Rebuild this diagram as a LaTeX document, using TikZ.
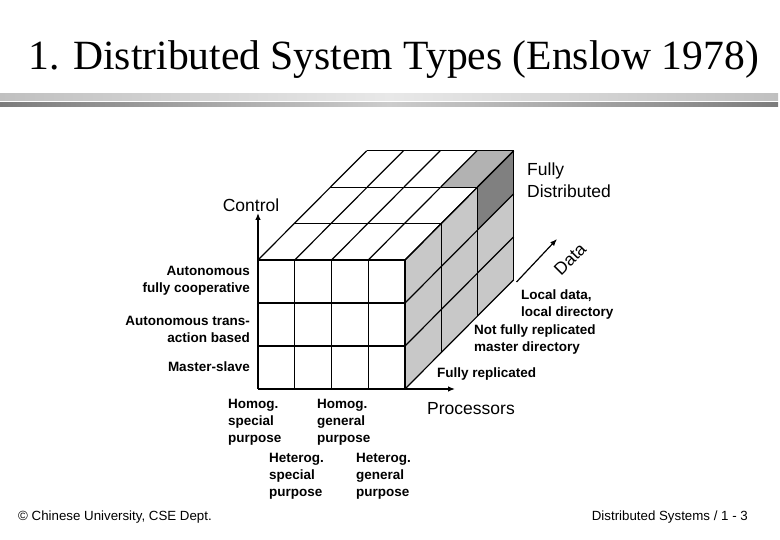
\documentclass[tikz,border=0pt]{standalone}
\usepackage{fontspec}
\setmainfont{Liberation Serif}
\setsansfont{Liberation Sans}
\usetikzlibrary{arrows.meta}

\definecolor{sidegray}{HTML}{C8C8C8}
\definecolor{topgray}{HTML}{B2B2B2}
\definecolor{cubedark}{HTML}{808080}
\definecolor{barlight}{HTML}{E8E8E8}
\definecolor{barmid}{HTML}{C0C0C0}
\definecolor{barpale}{HTML}{CCCCCC}
\definecolor{bardark}{HTML}{7C7C7C}

\begin{document}
\begin{tikzpicture}[x=1pt,y=-1pt,
  lbl/.style={font=\sffamily\fontsize{17.5}{21.5}\selectfont,inner sep=0pt},
  blbl/.style={font=\sffamily\bfseries\fontsize{13.5}{17}\selectfont,inner sep=0pt},
  grid/.style={line width=1.2pt},
  axis/.style={line width=1.2pt,-{Latex[length=7pt,width=5.5pt]}}]

\useasboundingbox (0,0) rectangle (780,540);

% Title
\node[anchor=base west,inner sep=0pt,font=\fontsize{41.6}{48}\selectfont] (title) at (28,70)
  {1. Distributed System Types (Enslow 1978)};

% Bars under the title
\shade[left color=barmid,right color=barlight] (0,94) rectangle (389,100.5);
\shade[left color=barlight,right color=barmid] (389,94) rectangle (778,100.5);
\shade[left color=bardark,right color=barpale] (0,103) rectangle (389,107);
\shade[left color=barpale,right color=bardark] (389,103) rectangle (778,107);

% Cube
\begin{scope}[shift={(258,389)},x={(36.75pt,0pt)},y={(0pt,43pt)},z={(36.2pt,36.4pt)}]
  \coordinate (ftl) at (0,3,0);
  \coordinate (fbr) at (4,0,0);
  \coordinate (bbr) at (4,0,3);

  % shaded faces
  \fill[sidegray] (4,0,0) -- (4,3,0) -- (4,3,3) -- (4,0,3) -- cycle;
  \fill[topgray] (3,3,2) -- (4,3,2) -- (4,3,3) -- (3,3,3) -- cycle;
  \fill[cubedark] (4,2,2) -- (4,3,2) -- (4,3,3) -- (4,2,3) -- cycle;

  % front face
  \foreach \i in {0,...,4} \draw[grid] (\i,0,0) -- (\i,3,0);
  \foreach \j in {0,...,3} \draw[grid] (0,\j,0) -- (4,\j,0);
  % top face
  \foreach \i in {0,...,4} \draw[grid] (\i,3,0) -- (\i,3,3);
  \foreach \k in {0,...,3} \draw[grid] (0,3,\k) -- (4,3,\k);
  % right face
  \foreach \k in {0,...,3} \draw[grid] (4,0,\k) -- (4,3,\k);
  \foreach \j in {0,...,3} \draw[grid] (4,\j,0) -- (4,\j,3);
\end{scope}

% Axes
\coordinate (ctrltip) at (258,213);
\coordinate (proctip) at (455,389);
\coordinate (datatail) at (516.5,282);
\coordinate (datatip) at (557,239);
\draw[axis] (ftl) -- (ctrltip);
\draw[axis] (fbr) -- (proctip);
\draw[axis] (datatail) -- (datatip);

\node[lbl] (control) at (251,205) {Control};
\node[lbl] (processors) at (471,409) {Processors};
\node[lbl,rotate=45] (data) at (570,259) {Data};
\node[lbl,anchor=west,align=left] (fullydist) at (527,180) {Fully\\Distributed};

% Control levels
\node[blbl,anchor=east,align=right] (autocoop) at (250,281) {Autonomous\\fully cooperative};
\node[blbl,anchor=east,align=right] (autotrans) at (250,329) {Autonomous trans-\\action based};
\node[blbl,anchor=east] (master) at (250,367) {Master-slave};

% Data levels
\node[blbl,anchor=west,align=left] (localdata) at (521,305) {Local data,\\local directory};
\node[blbl,anchor=west,align=left] (notfully) at (474,340) {Not fully replicated\\master directory};
\node[blbl,anchor=west] (fullyrep) at (437,374) {Fully replicated};

% Processor levels
\node[blbl,anchor=west,align=left] (homspec) at (228,422) {Homog.\\special\\purpose};
\node[blbl,anchor=west,align=left] (homgen) at (317,422) {Homog.\\general\\purpose};
\node[blbl,anchor=west,align=left] (hetspec) at (269,476) {Heterog.\\special\\purpose};
\node[blbl,anchor=west,align=left] (hetgen) at (356,476) {Heterog.\\general\\purpose};

% Footer
\node[anchor=west,inner sep=0pt,font=\sffamily\fontsize{13.3}{15}\selectfont] (copy) at (18,517)
  {© Chinese University, CSE Dept.};
\node[anchor=east,inner sep=0pt,font=\sffamily\fontsize{13.3}{15}\selectfont] (pagenum) at (748,517)
  {Distributed Systems / 1 - 3};

\end{tikzpicture}
\end{document}
